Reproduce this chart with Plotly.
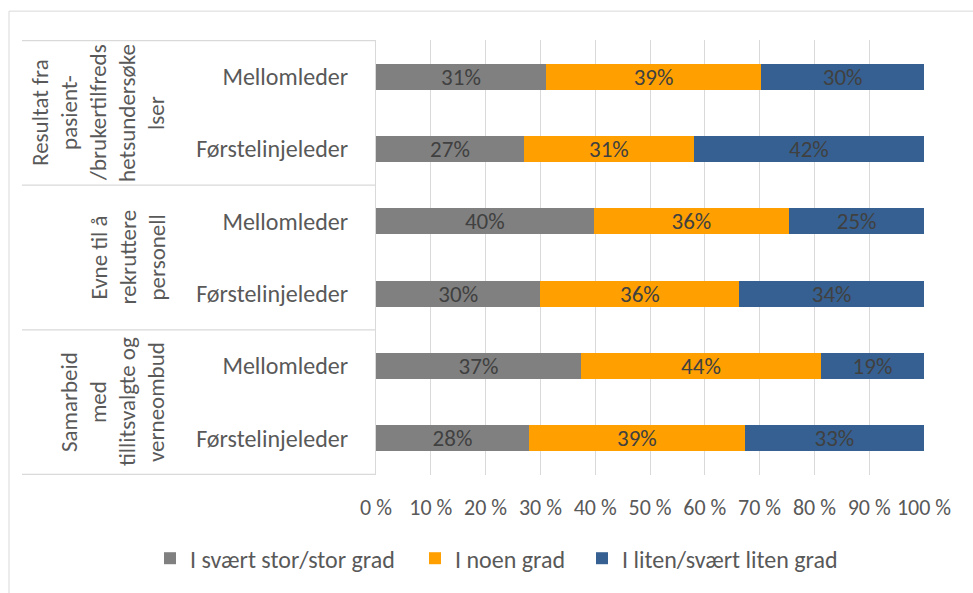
import plotly.graph_objects as go

# Rows top to bottom
row_labels = ["Mellomleder", "Førstelinjeleder", "Mellomleder",
              "Førstelinjeleder", "Mellomleder", "Førstelinjeleder"]
groups = [
    ["Resultat fra", "pasient-", "/brukertilfreds", "hetsundersøke", "lser"],
    ["Evne til å", "rekruttere", "personell"],
    ["Samarbeid", "med", "tillitsvalgte og", "verneombud"],
]
series_names = ["I svært stor/stor grad", "I noen grad", "I liten/svært liten grad"]
stor_grad = [31.0, 27.0, 39.7, 30.0, 37.4, 27.9]
noen_grad = [39.3, 31.0, 35.7, 36.3, 43.8, 39.4]
liten_grad = [29.7, 42.0, 24.6, 33.7, 18.8, 32.7]
colors = ["#808080", "#FFA000", "#366092"]

FONT = "Carlito, Lato, sans-serif"
TXT = "#595959"

W, H = 973, 593
L, R, T, B = 376, 49, 40, 116
PW, PH = W - L - R, H - T - B


def px_x(x):
    return (x - L) / PW


def px_y(y):
    return (H - B - y) / PH


rows = list(range(len(row_labels)))
legend_ids = ["legend", "legend2", "legend3"]
legend_left = [150, 415, 582]

fig = go.Figure()
for name, vals, col, lid in zip(series_names, [stor_grad, noen_grad, liten_grad],
                                colors, legend_ids):
    fig.add_trace(go.Bar(
        y=rows, x=vals, name=name, orientation="h", legend=lid,
        marker=dict(color=col, line=dict(width=0)),
        text=[f"{v:.0f}%" for v in vals], textposition="inside",
        insidetextanchor="middle", textangle=0, constraintext="none",
        textfont=dict(family=FONT, size=23, color="#404040"),
        hoverinfo="skip",
    ))

shapes = [
    # outer chart frame
    dict(type="rect", xref="paper", yref="paper",
         x0=px_x(9), x1=px_x(1000), y0=px_y(11), y1=px_y(620),
         line=dict(color="#d9d9d9", width=1), layer="below"),
]
# group separators in the category area
for b in [-0.5, 1.5, 3.5, 5.5]:
    shapes.append(dict(type="line", xref="paper", yref="y",
                       x0=px_x(22), x1=0, y0=b, y1=b,
                       line=dict(color="#d9d9d9", width=1.3)))

annotations = []
group_rows = [(0, 1), (2, 3), (4, 5)]
for lines, (r0, r1) in zip(groups, group_rows):
    n = len(lines)
    yc = (r0 + r1) / 2
    for i, line in enumerate(lines):
        xc = 156 - (n - 1 - i) * 29
        annotations.append(dict(
            text=line, xref="paper", yref="y", x=px_x(xc), y=yc,
            xanchor="center", yanchor="middle", textangle=-90, showarrow=False,
            font=dict(family=FONT, size=23, color=TXT),
        ))

legend_style = dict(orientation="h", xanchor="left", y=px_y(561), yanchor="middle",
                    font=dict(family=FONT, size=24, color=TXT),
                    itemwidth=30, bgcolor="rgba(0,0,0,0)")
legends = {lid: dict(legend_style, x=px_x(lx)) for lid, lx in zip(legend_ids, legend_left)}

fig.update_layout(
    width=W, height=H, barmode="stack", bargap=0.64,
    margin=dict(l=L, r=R, t=T, b=B, pad=0),
    paper_bgcolor="white", plot_bgcolor="white",
    font=dict(family=FONT, color=TXT),
    shapes=shapes, annotations=annotations,
    showlegend=True,
    **legends,
)
fig.update_xaxes(range=[0, 100], dtick=10, ticksuffix=" %",
                 showgrid=True, gridcolor="#d9d9d9", gridwidth=1.3,
                 zeroline=False, showline=False, ticks="",
                 ticklabelstandoff=17,
                 tickfont=dict(family=FONT, size=22, color=TXT), fixedrange=True)
fig.update_yaxes(tickvals=rows, ticktext=row_labels, autorange="reversed",
                 showgrid=False, zeroline=False, showline=True,
                 linecolor="#d9d9d9", linewidth=1.3, ticks="",
                 ticklabelstandoff=22,
                 tickfont=dict(family=FONT, size=24, color=TXT), fixedrange=True)

fig.write_html("out.html", config={"displayModeBar": False})
